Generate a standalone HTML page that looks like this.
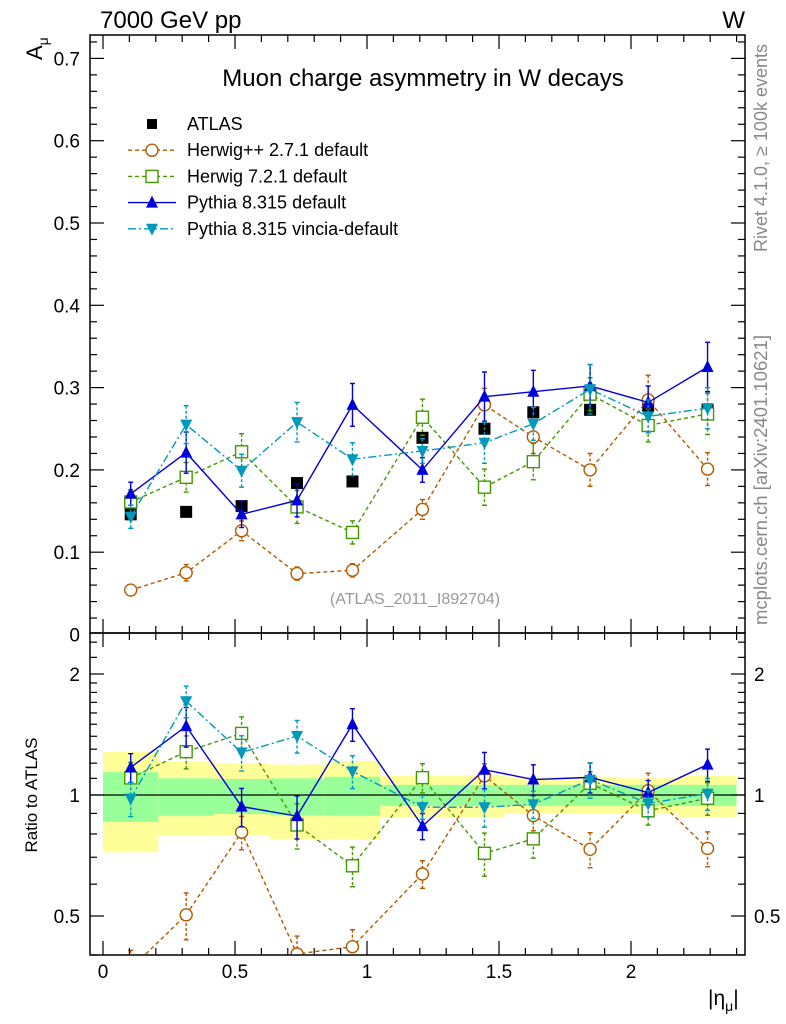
<!DOCTYPE html>
<html><head><meta charset="utf-8"><style>
body{margin:0;background:#fff}
svg{display:block;font-family:"Liberation Sans",sans-serif}
</style></head><body>
<svg id="c" width="786" height="1024" viewBox="0 0 786 1024">
<defs>
<clipPath id="cm"><rect x="90" y="35" width="655" height="598"/></clipPath>
<clipPath id="cr"><rect x="90" y="633" width="655" height="322"/></clipPath>
</defs>
<text x="100" y="28" font-size="24">7000 GeV pp</text>
<text x="745" y="28" font-size="24" text-anchor="end">W</text>
<text x="423" y="86" font-size="24" text-anchor="middle">Muon charge asymmetry in W decays</text>
<text x="415" y="604" font-size="16" fill="#999" text-anchor="middle">(ATLAS_2011_I892704)</text>
<text transform="translate(767,148) rotate(-90)" font-size="18" fill="#888" text-anchor="middle">Rivet 4.1.0, ≥ 100k events</text>
<text transform="translate(767,480) rotate(-90)" font-size="18.5" fill="#888" text-anchor="middle">mcplots.cern.ch [arXiv:2401.10621]</text>
<text transform="translate(42,60) rotate(-90)" font-size="22">A<tspan font-size="14" dy="6">μ</tspan></text>
<text transform="translate(37,795) rotate(-90)" font-size="17" text-anchor="middle">Ratio to ATLAS</text>
<text x="708" y="1005" font-size="21">|η<tspan font-size="14" dy="6">μ</tspan><tspan dy="-6">|</tspan></text>
<g id="g"></g>
</svg>
<script>
const binLo=[0,0.21,0.42,0.63,0.84,1.05,1.37,1.52,1.74,1.95,2.18];
const binHi=[0.21,0.42,0.63,0.84,1.05,1.37,1.52,1.74,1.95,2.18,2.4];
const atlas=[0.146,0.149,0.156,0.184,0.186,0.239,0.25,0.27,0.273,0.278,0.273];
const bandYellowUp=[1.28,1.21,1.2,1.19,1.215,1.115,1.12,1.11,1.11,1.1,1.115];
const bandYellowDn=[0.72,0.79,0.795,0.777,0.777,0.88,0.88,0.9,0.9,0.9,0.88];
const bandGreenUp=[1.14,1.10,1.096,1.1,1.11,1.06,1.06,1.06,1.06,1.06,1.06];
const bandGreenDn=[0.857,0.888,0.897,0.89,0.888,0.94,0.94,0.94,0.94,0.94,0.94];
const hwpp=[0.054,0.075,0.126,0.074,0.078,0.152,0.279,0.24,0.2,0.285,0.201];
const hwppErr=[0.006,0.01,0.012,0.008,0.008,0.012,0.02,0.02,0.02,0.03,0.02];
const hw7=[0.161,0.191,0.222,0.155,0.124,0.264,0.179,0.21,0.292,0.254,0.268];
const hw7Err=[0.015,0.018,0.022,0.02,0.014,0.022,0.022,0.022,0.02,0.02,0.025];
const py=[0.171,0.221,0.146,0.163,0.279,0.2,0.289,0.295,0.302,0.282,0.325];
const pyErr=[0.014,0.025,0.016,0.02,0.026,0.015,0.03,0.026,0.026,0.02,0.03];
const vin=[0.143,0.255,0.199,0.258,0.213,0.223,0.233,0.256,0.298,0.265,0.275];
const vinErr=[0.014,0.023,0.02,0.024,0.02,0.015,0.025,0.02,0.03,0.02,0.025];
const yTicks=[0,0.1,0.2,0.3,0.4,0.5,0.6,0.7];
const xTicks=[0,0.5,1,1.5,2];
const rTicks=[0.5,1,2];

const NS="http://www.w3.org/2000/svg",G=document.getElementById('g');
function el(t,a,p){const e=document.createElementNS(NS,t);for(const k in a)e.setAttribute(k,a[k]);(p||G).appendChild(e);return e;}
const X=v=>103+264*v;
const Y=v=>634.5-823*v;
const R=v=>795-121*Math.log2(v);
const mid=i=>(binLo[i]+binHi[i])/2;

const bands=el('g',{'clip-path':'url(#cr)'});


binLo.forEach((lo,i)=>{
  const a=el('rect',{x:X(lo),y:R(bandYellowUp[i]),width:X(binHi[i])-X(lo),height:R(bandYellowDn[i])-R(bandYellowUp[i]),fill:'#ffff99'},bands);
  
  
  const b=el('rect',{x:X(lo),y:R(bandGreenUp[i]),width:X(binHi[i])-X(lo),height:R(bandGreenDn[i])-R(bandGreenUp[i]),fill:'#99ff99'},bands);
  
  
});
el('line',{x1:90,x2:745,y1:R(1),y2:R(1),stroke:'#000','stroke-width':1.3});

function marker(k,x,y,c,g){
  let m;
  if(k==='o')m=el('circle',{cx:x,cy:y,r:6,fill:'#fff',stroke:c,'stroke-width':1.4},g);
  else if(k==='s')m=el('rect',{x:x-6,y:y-6,width:12,height:12,fill:'#fff',stroke:c,'stroke-width':1.4},g);
  else if(k==='u')m=el('path',{d:`M${x},${y-7}L${x+6},${y+5}L${x-6},${y+5}Z`,fill:c},g);
  else if(k==='d')m=el('path',{d:`M${x},${y+7}L${x+6},${y-5}L${x-6},${y-5}Z`,fill:c},g);
  else m=el('rect',{x:x-6,y:y-6,width:12,height:12,fill:c},g);
  return m;
}
const series=[
 {name:'herwigpp',v:hwpp,e:hwppErr,c:'#b35a00',m:'o',d:'4,3',lab:'Herwig++ 2.7.1 default'},
 {name:'herwig7',v:hw7,e:hw7Err,c:'#449900',m:'s',d:'4,3',lab:'Herwig 7.2.1 default'},
 {name:'pythia',v:py,e:pyErr,c:'#0000dd',m:'u',d:'',lab:'Pythia 8.315 default'},
 {name:'vincia',v:vin,e:vinErr,c:'#0099bb',m:'d',d:'8,3,2,3',lab:'Pythia 8.315 vincia-default'}
];
function drawSeries(s,ratio){
  const g=el('g',{'clip-path':ratio?'url(#cr)':'url(#cm)'});
  
  
  const yf=ratio?(i,v)=>R(v/atlas[i]):(i,v)=>Y(v);
  const pts=s.v.map((v,i)=>X(mid(i))+','+yf(i,v)).join(' ');
  el('polyline',{points:pts,fill:'none',stroke:s.c,'stroke-width':1.4,'stroke-dasharray':s.d},g);
  s.v.forEach((v,i)=>{
    const x=X(mid(i)),y1=yf(i,v+s.e[i]),y2=yf(i,v-s.e[i]);
    el('line',{x1:x,x2:x,y1:y1,y2:y2,stroke:s.c,'stroke-width':1.4,'stroke-dasharray':s.d?'3,2':''},g);
    el('line',{x1:x-2.5,x2:x+2.5,y1:y1,y2:y1,stroke:s.c,'stroke-width':1.4},g);
    el('line',{x1:x-2.5,x2:x+2.5,y1:y2,y2:y2,stroke:s.c,'stroke-width':1.4},g);
    const m=marker(s.m,x,yf(i,v),s.c,g);
    
    
  });
}
const ag=el('g',{'clip-path':'url(#cm)'});


atlas.forEach((v,i)=>{const m=marker('f',X(mid(i)),Y(v),'#000',ag);
  
  });
series.forEach(s=>{drawSeries(s,false);drawSeries(s,true);});

el('rect',{x:90,y:35,width:655,height:598,fill:'none',stroke:'#000','stroke-width':1.5});
el('rect',{x:90,y:633,width:655,height:322,fill:'none',stroke:'#000','stroke-width':1.5});
function tk(x1,y1,x2,y2){el('line',{x1,y1,x2,y2,stroke:'#000','stroke-width':1.2});}
for(let k=0;k<=36;k++){const v=k*0.02,y=Y(v);if(y<35||y>633)continue;const L=k%5===0?14:7;tk(90,y,90+L,y);tk(745,y,745-L,y);}
yTicks.forEach(v=>{const t=el('text',{x:80,y:Y(v)+7,'font-size':19,'text-anchor':'end'});t.textContent=v===0?'0':v.toFixed(1);
  
  });
for(let k=0;k<=24;k++){const x=X(k*0.1);const L=k%5===0?14:7;tk(x,35,x,35+L);tk(x,633,x,633-L);tk(x,633,x,633+L);tk(x,955,x,955-L);}
xTicks.forEach(v=>{const t=el('text',{x:X(v),y:978,'font-size':19,'text-anchor':'middle'});t.textContent=String(v);
  
  });
[0.4,0.5,0.6,0.7,0.8,0.9,1,1.1,1.2,1.3,1.4,1.5,1.6,1.7,1.8,1.9,2,2.2,2.4].forEach(v=>{const y=R(v);if(y<633||y>955)return;const L=rTicks.includes(v)?14:7;tk(90,y,90+L,y);tk(745,y,745-L,y);});
rTicks.forEach(v=>{
  const t=el('text',{x:80,y:R(v)+7,'font-size':19,'text-anchor':'end'});t.textContent=String(v);
  
  
  const t2=el('text',{x:754,y:R(v)+7,'font-size':19});t2.textContent=String(v);
  
  
});
const lg=el('g',{});


const rows=[{m:'f',c:'#000',d:null,lab:'ATLAS'}].concat(series);
rows.forEach((s,i)=>{
  const y=124+i*26.2;
  const e=el('g',{},lg);
  
  
  if(s.d!==null)el('line',{x1:128,x2:176,y1:y,y2:y,stroke:s.c,'stroke-width':1.4,'stroke-dasharray':s.d},e);
  const mm=marker(s.m,152,y,s.c,e);
  if(s.m==='f'){mm.setAttribute('width',10);mm.setAttribute('height',10);mm.setAttribute('x',147);mm.setAttribute('y',y-5);}
  const t=el('text',{x:187,y:y+6,'font-size':18},e);t.textContent=s.lab;
});
</script>
</body></html>
